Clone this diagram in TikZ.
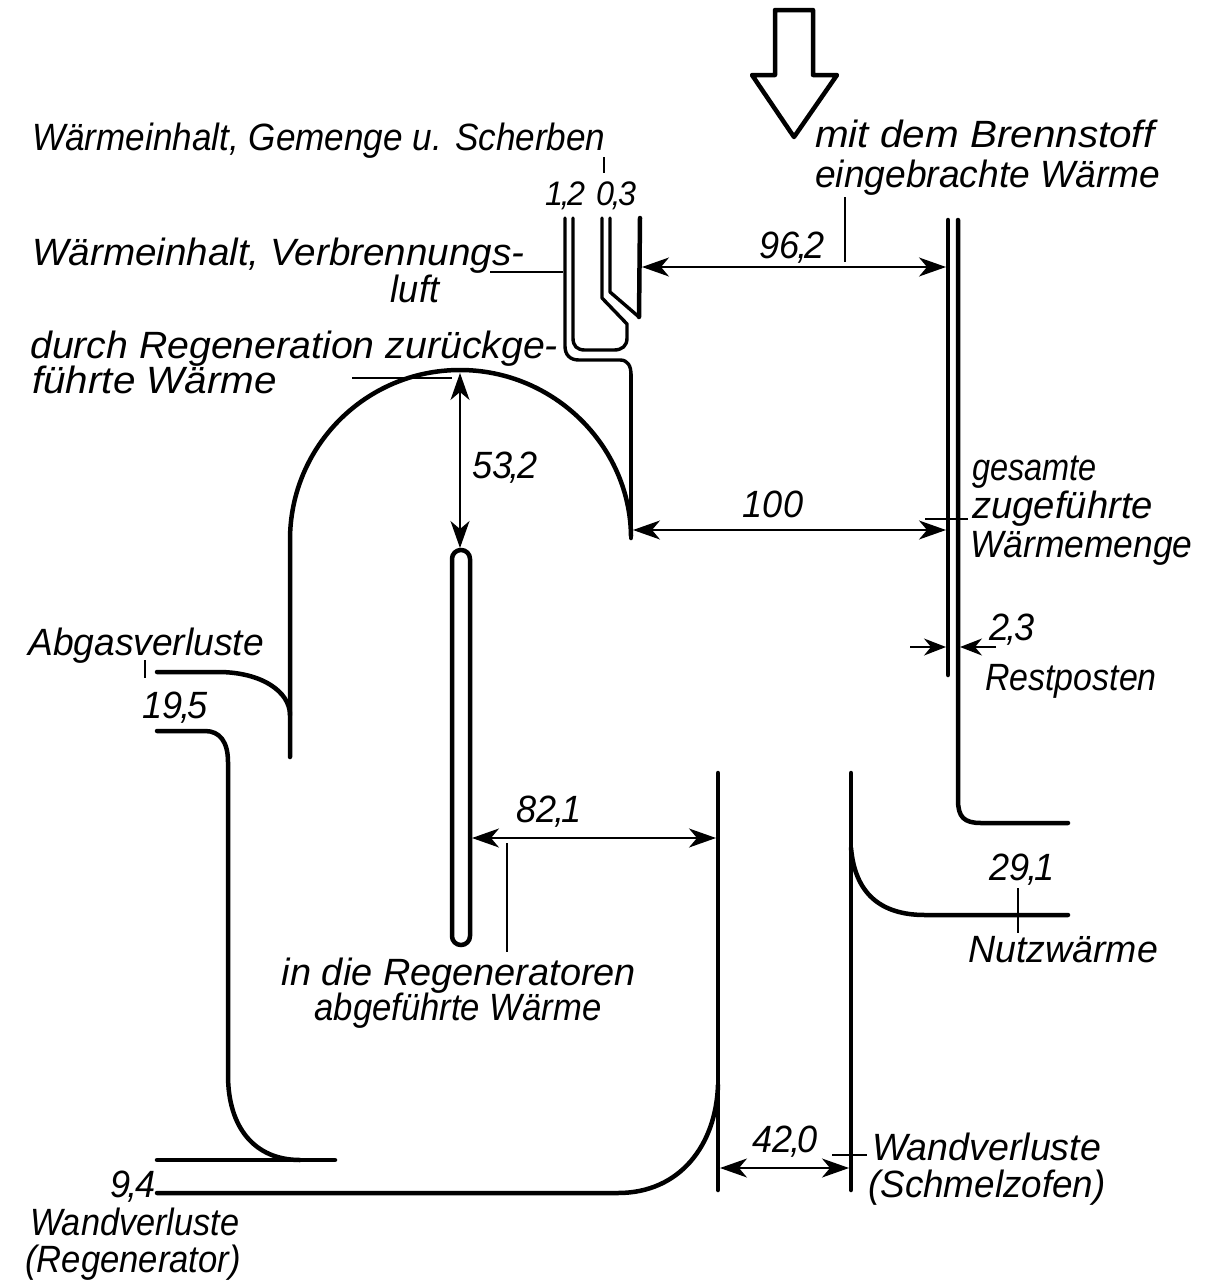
\documentclass[tikz,border=0pt]{standalone}
\usepackage{fontspec}
\usepackage{graphicx}
\setmainfont{Liberation Sans}[FakeStretch=0.95]
\usetikzlibrary{arrows.meta}
\newcommand\hsc[2]{\scalebox{#1}[1]{#2}}
\newcommand\dc{\kern-2.5pt,\kern-2.5pt}
\begin{document}
\begin{tikzpicture}[x=1pt,y=-1pt,
  flow/.style={line width=4.5pt, line cap=round, line join=round},
  flowtwo/.style={line width=3.4pt, line cap=round, line join=round},
  thin/.style={line width=1.5pt},
  dim/.style={thin, {Stealth[length=27pt,width=19pt,inset=8pt]}-{Stealth[length=27pt,width=19pt,inset=8pt]}},
  lbl/.style={font=\fontsize{38}{40}\selectfont\itshape, inner sep=0pt},
  small/.style={font=\fontsize{34}{36}\selectfont\itshape, inner sep=0pt}]
\useasboundingbox (0,0) rectangle (1215,1288);

% ---- key coordinates
\coordinate (A1) at (642,267);  \coordinate (A2) at (946,267);
\coordinate (B1) at (633,530);  \coordinate (B2) at (946,530);
\coordinate (C1) at (460,373);  \coordinate (C2) at (460,548);
\coordinate (D1) at (472,838);  \coordinate (D2) at (716,838);
\coordinate (E1) at (720,1168); \coordinate (E2) at (849,1168);
\coordinate (F1) at (910,647);  \coordinate (F2) at (946,647);
\coordinate (G1) at (996,647);  \coordinate (G2) at (960,647);

% ---- top hollow arrow
\draw[flow] (775,10) -- (813,10) -- (813,75) -- (837,75) -- (794,137) -- (752,75) -- (775,75) -- cycle;

% ---- right double line (Restposten) and Nutzwaerme upper boundary
\draw[flow] (948,220) -- (948,675);
\draw[flow] (958,220) -- (958,800) .. controls (958,817) and (964,823) .. (981,823) -- (1068,823);

% ---- incoming small streams
\draw[flowtwo] (610,218) -- (610,292) -- (639,317);
\draw[flow] (639,317) -- (640,218);
\draw[flowtwo] (602,218) -- (602,298) -- (627,324) -- (627,338)
  .. controls (627,346) and (622,350) .. (614,350) -- (585,350)
  .. controls (577,350) and (573,346) .. (573,338) -- (573,218);
\draw[flowtwo] (565,218) -- (565,346) .. controls (565,355) and (570,360) .. (579,360) -- (620,360)
  .. controls (628,360) and (631,366) .. (631,375);
\draw[flow] (631,375) -- (631,538);

% ---- regeneration loop
\draw[flow] (290,757) -- (290,540) .. controls (290,446) and (366,370) .. (460,370)
  .. controls (554,370) and (630,446) .. (631,536);

% ---- Abgasverluste
\draw[flow] (157,672) -- (218,672) .. controls (262,672) and (290,692) .. (290,715);
\draw[flow] (157,731) -- (205,731) .. controls (220,731) and (228,742) .. (228,762) -- (228,1075)
  .. controls (228,1128) and (255,1160) .. (300,1160);
\draw[flow] (157,1160) -- (335,1160);
\draw[flow] (157,1193) -- (618,1193) .. controls (680,1193) and (716,1145) .. (718,1085);
\draw[flow] (718,773) -- (718,1190);
\draw[flow] (851,773) -- (851,1190);
\draw[flow] (851,848) .. controls (855,893) and (880,915) .. (925,915) -- (1068,915);

% ---- regenerator capsule
\draw[flow, rounded corners=8.9pt] (452,550) rectangle (470,945);

% ---- dimension arrows
\draw[dim] (A1) -- (A2);
\draw[dim] (B1) -- (B2);
\draw[dim] (C1) -- (C2);
\draw[dim] (D1) -- (D2);
\draw[dim] (E1) -- (E2);
\draw[thin, -{Stealth[length=22pt,width=17pt,inset=7pt]}] (F1) -- (F2);
\draw[thin, -{Stealth[length=22pt,width=17pt,inset=7pt]}] (G1) -- (G2);

% ---- labels
\node[lbl, anchor=base west] (t1) at (32,150) {\hsc{0.973}{Wärmeinhalt, Gemenge u. Scherben}};
\node[small, anchor=base] (n12) at (565,205) {1\dc2};
\node[small, anchor=base] (n03) at (616,205) {0\dc3};
\coordinate (s1) at (604,157); \coordinate (s2) at (604,173);
\draw[thin] (s1) -- (s2);

\node[lbl, anchor=base west] (t2a) at (32,265) {\hsc{1.07}{Wärmeinhalt, Verbrennungs-}};
\node[lbl, anchor=base] (t2b) at (415,302) {luft};
\coordinate (v1) at (490,272); \coordinate (v2) at (563,272);
\draw[thin] (v1) -- (v2);

\node[lbl, anchor=base west] (t3a) at (30,358) {\hsc{1.087}{durch Regeneration zurückge-}};
\node[lbl, anchor=base west] (t3b) at (32,393) {\hsc{1.12}{führte Wärme}};
\coordinate (r1) at (352,378); \coordinate (r2) at (452,378);
\draw[thin] (r1) -- (r2);
\node[lbl, anchor=base west] (n532) at (472,478) {53\dc2};

\node[lbl, anchor=base west] (t4a) at (815,147) {\hsc{1.12}{mit dem Brennstoff}};
\node[lbl, anchor=base west] (t4b) at (815,187) {\hsc{1.03}{eingebrachte Wärme}};
\coordinate (e1) at (845,197); \coordinate (e2) at (845,262);
\draw[thin] (e1) -- (e2);
\node[lbl, anchor=base] (n962) at (792,258) {96\dc2};

\node[lbl, anchor=base] (n100) at (773,517) {100};
\node[lbl, anchor=base west] (t5a) at (972,480) {\hsc{0.9}{gesamte}};
\node[lbl, anchor=base west] (t5b) at (972,518) {\hsc{1.06}{zugeführte}};
\node[lbl, anchor=base west] (t5c) at (970,557) {\hsc{0.98}{Wärmemenge}};
\coordinate (g1) at (925,519); \coordinate (g2) at (968,519);
\draw[thin] (g1) -- (g2);

\node[lbl, anchor=base] (n23) at (1012,640) {2\dc3};
\node[lbl, anchor=base west] (t6) at (985,690) {\hsc{0.94}{Restposten}};

\node[lbl, anchor=base west] (t7) at (28,655) {\hsc{1.03}{Abgasverluste}};
\coordinate (a1) at (145,660); \coordinate (a2) at (145,678);
\draw[thin] (a1) -- (a2);
\node[lbl, anchor=base] (n195) at (175,718) {19\dc5};

\node[lbl, anchor=base] (n821) at (549,822) {82\dc1};
\node[lbl, anchor=base] (t8a) at (459,985) {\hsc{1.05}{in die Regeneratoren}};
\node[lbl, anchor=base] (t8b) at (458,1020) {\hsc{0.96}{abgeführte Wärme}};
\coordinate (i1) at (507,843); \coordinate (i2) at (507,952);
\draw[thin] (i1) -- (i2);

\node[lbl, anchor=base] (n291) at (1022,880) {29\dc1};
\node[lbl, anchor=base west] (t9) at (968,962) {\hsc{1.04}{Nutzwärme}};
\coordinate (u1) at (1018,888); \coordinate (u2) at (1018,933);
\draw[thin] (u1) -- (u2);

\node[lbl, anchor=base] (n420) at (785,1152) {42\dc0};
\node[lbl, anchor=base west] (t10a) at (872,1160) {\hsc{1.04}{Wandverluste}};
\node[lbl, anchor=base west] (t10b) at (868,1197) {\hsc{1.02}{(Schmelzofen)}};
\coordinate (w1) at (832,1155); \coordinate (w2) at (867,1155);
\draw[thin] (w1) -- (w2);

\node[lbl, anchor=base] (n94) at (133,1197) {9\dc4};
\node[lbl, anchor=base west] (t11a) at (30,1235) {\hsc{0.95}{Wandverluste}};
\node[lbl, anchor=base west] (t11b) at (25,1272) {\hsc{0.96}{(Regenerator)}};
\end{tikzpicture}
\end{document}
